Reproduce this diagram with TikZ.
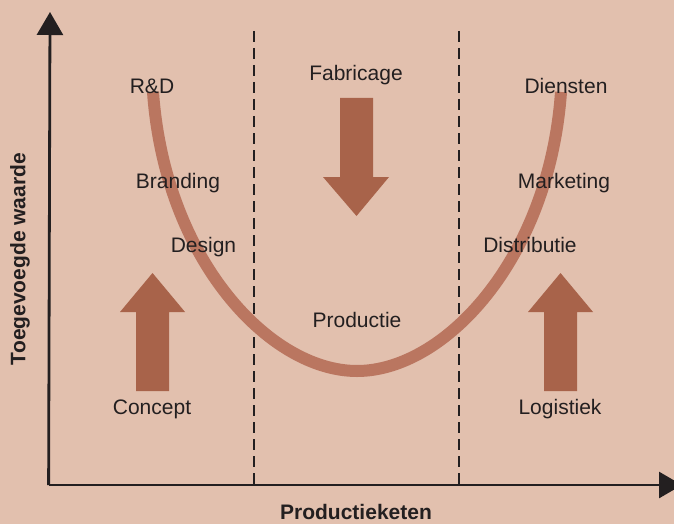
\documentclass[tikz,border=0pt]{standalone}
\usepackage{fontspec}
\setmainfont{Liberation Sans}
\usetikzlibrary{arrows.meta}
\definecolor{bgtan}{HTML}{E2C0AE}
\definecolor{curvebrown}{HTML}{BA7660}
\definecolor{arrowbrown}{HTML}{A8634A}
\definecolor{inkdark}{HTML}{231F20}
\begin{document}
\begin{tikzpicture}[x=1pt, y=-1pt,
    lbl/.style={font=\fontsize{21}{24}\selectfont, text=inkdark, anchor=base, inner sep=0pt},
    axlbl/.style={font=\fontsize{21}{24}\selectfont\bfseries, text=inkdark, inner sep=0pt},
    axis/.style={line width=2.8pt, draw=inkdark, -{Triangle[length=23pt,width=26pt]}},
    stage/.style={line width=1.3pt, draw=inkdark, dash pattern=on 11pt off 6pt},
    bigarrow/.style={fill=arrowbrown},
    ucurve/.style={line width=12pt, draw=curvebrown}]
    % Background
    \fill[bgtan] (0,0) rectangle (674,524);
    \useasboundingbox (0,0) rectangle (674,524);

    % Axes
    \coordinate (origin) at (50,485);
    \coordinate (ytop) at (50,12);
    \coordinate (xend) at (682,485);
    \draw[axis] ([xshift=-1.4pt]origin) -- (ytop);
    \draw[axis] ([xshift=-1.4pt]origin) -- (xend);

    % Stage boundaries
    \draw[stage] (254,31) -- (254,485);
    \draw[stage] (459,31) -- (459,485);

    % Smile curve
    \draw[ucurve] (153,92) .. controls (165,260) and (270,371) .. (357,371);
    \draw[ucurve] (357,371) .. controls (444,371) and (549,260) .. (561,92);

    % Value arrows
    \foreach \cx in {152.5,560.5}
        \fill[bigarrow] (\cx-16.5,391) -- (\cx-16.5,312) -- (\cx-32.5,312) -- (\cx,273)
            -- (\cx+32.5,312) -- (\cx+16.5,312) -- (\cx+16.5,391) -- cycle;
    \fill[bigarrow] (340,98) -- (373,98) -- (373,177) -- (389,177) -- (356.5,216)
        -- (323,177) -- (340,177) -- cycle;

    % Labels
    \node[lbl] (rd) at (152,94) {R\&D};
    \node[lbl] (fabricage) at (356,81) {Fabricage};
    \node[lbl] (diensten) at (566,94) {Diensten};
    \node[lbl] (branding) at (178,188) {Branding};
    \node[lbl] (marketing) at (564,188) {Marketing};
    \node[lbl] (design) at (203.5,252) {Design};
    \node[lbl] (distributie) at (530,252) {Distributie};
    \node[lbl] (productie) at (357,327) {Productie};
    \node[lbl] (concept) at (152,414) {Concept};
    \node[lbl] (logistiek) at (560,414) {Logistiek};

    % Axis titles
    \node[axlbl, rotate=90] (yaxis) at (20,259) {Toegevoegde waarde};
    \node[axlbl, anchor=base] (xaxis) at (356,519.5) {Productieketen};
\end{tikzpicture}
\end{document}
